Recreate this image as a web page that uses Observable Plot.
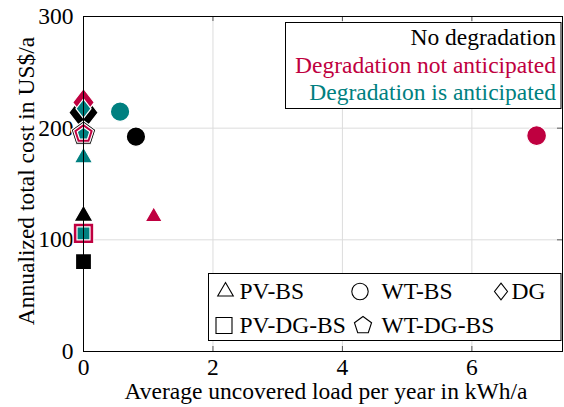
<!DOCTYPE html>
<html>
<head>
<meta charset="utf-8">
<script src="https://cdn.jsdelivr.net/npm/d3@7"></script>
<script src="https://cdn.jsdelivr.net/npm/@observablehq/plot@0.6"></script>
<style>
  html, body { margin: 0; padding: 0; background: #fff; }
  #wrap { position: relative; width: 564px; height: 407px; }
  #wrap svg { position: absolute; left: 0; top: 0; }
  #wrap text { font-family: 'Liberation Serif', 'Times New Roman', serif; }
</style>
</head>
<body>
<div id="wrap"></div>
<script>
// ---- data ----
const systems = ["PV-BS", "WT-BS", "DG", "PV-DG-BS", "WT-DG-BS"];
const scenarios = ["No degradation", "Degradation not anticipated", "Degradation is anticipated"];
const loadNoDeg  = [0, 0.81, 0, 0, 0];
const costNoDeg  = [121.5, 192.4, 214, 80.4, 195];
const loadNotAnt = [1.085, 7.0, 0, 0, 0];
const costNotAnt = [120.7, 193.3, 223, 105.8, 195];
const loadAnt    = [0, 0.565, 0, 0, 0];
const costAnt    = [173.6, 214.8, 217.5, 105.8, 195];
const xTicks = [0, 2, 4, 6];
const yTicks = [0, 100, 200, 300];
const xLabel = "Average uncovered load per year in kWh/a";
const yLabel = "Annualized total cost in US$/a";

// ---- styles ----
const colors = ["#000000", "#BF0040", "#008080"];
const FONT = "'Liberation Serif', 'Times New Roman', serif";
const FS = 23.5;
const W = 564, H = 407;
const mL = 83, mR = 2, mT = 16, mB = 56;
const frameW = W - mL - mR, frameH = H - mT - mB;

const rad = s => Math.sqrt(s / Math.PI);
const symTri = {draw(c, s) { const r = rad(s), h = r * Math.sqrt(3) / 2; c.moveTo(0, -r); c.lineTo(h, r / 2); c.lineTo(-h, r / 2); c.closePath(); }};
const symCircle = {draw(c, s) { const r = rad(s); c.moveTo(r, 0); c.arc(0, 0, r, 0, 2 * Math.PI); c.closePath(); }};
const symDiamond = {draw(c, s) { const r = rad(s); c.moveTo(0, -1.3 * r); c.lineTo(r, 0); c.lineTo(0, 1.3 * r); c.lineTo(-r, 0); c.closePath(); }};
const symSquare = {draw(c, s) { const r = rad(s); c.rect(-r, -r, 2 * r, 2 * r); }};
const symPent = {draw(c, s) { const r = rad(s); for (let k = 0; k < 5; k++) { const a = -Math.PI / 2 + k * 2 * Math.PI / 5; const x = r * Math.cos(a), y = r * Math.sin(a); k ? c.lineTo(x, y) : c.moveTo(x, y); } c.closePath(); }};
const symbolsBySystem = [symTri, symCircle, symDiamond, symSquare, symPent];
// marker radius per system (rows) and scenario (columns)
const markR = [
  [11.1, 10, 10.6],
  [9.7, 9.9, 9.7],
  [14.7, 10.8, 7.5],
  [8, 10.3, 6.5],
  [13, 10.5, 6.6]
];

const series = [
  {load: loadNoDeg, cost: costNoDeg},
  {load: loadNotAnt, cost: costNotAnt},
  {load: loadAnt, cost: costAnt}
];

const dotMarks = [];
series.forEach((s, si) => {
  systems.forEach((sys, i) => {
    dotMarks.push(Plot.dot([i], {
      x: j => s.load[j], y: j => s.cost[j],
      symbol: symbolsBySystem[i], r: markR[i][si],
      fill: colors[si], stroke: "white", strokeWidth: 1.2
    }));
  });
});

const chart = Plot.plot({
  width: W, height: H,
  marginLeft: mL, marginRight: mR, marginTop: mT, marginBottom: mB,
  style: {fontFamily: FONT, fontSize: FS + "px", background: "white", overflow: "visible"},
  x: {domain: [0, 7.4]},
  y: {domain: [0, 300]},
  marks: [
    Plot.gridX(xTicks, {stroke: "#dcdcdc", strokeOpacity: 1, strokeWidth: 1}),
    Plot.gridY(yTicks, {stroke: "#dcdcdc", strokeOpacity: 1, strokeWidth: 1}),
    Plot.tickX(xTicks, {x: d => d, insetTop: frameH - 5, stroke: "#333", strokeWidth: 0.8}),
    Plot.tickX(xTicks, {x: d => d, insetBottom: frameH - 5, stroke: "#333", strokeWidth: 0.8}),
    Plot.tickY(yTicks, {y: d => d, insetRight: frameW - 5, stroke: "#333", strokeWidth: 0.8}),
    Plot.tickY(yTicks, {y: d => d, insetLeft: frameW - 5, stroke: "#333", strokeWidth: 0.8}),
    Plot.axisX(xTicks, {tickSize: 0, tickPadding: 7, label: null, fontSize: FS}),
    Plot.axisY(yTicks, {tickSize: 0, tickPadding: 10, label: null, fontSize: FS}),
    Plot.text([xLabel], {frameAnchor: "bottom", textAnchor: "middle", lineAnchor: "middle", text: d => d, dy: 39.5, dx: 3, fontSize: FS}),
    Plot.text([yLabel], {frameAnchor: "left", textAnchor: "middle", lineAnchor: "middle", text: d => d, rotate: -90, dx: -57.5, dy: -3, fontSize: FS}),
    ...dotMarks,
    Plot.frame({stroke: "black", strokeWidth: 1})
  ]
});
document.getElementById("wrap").appendChild(chart);

// ---- legends (overlay) ----
const ov = d3.select("#wrap").append("svg")
  .attr("width", W).attr("height", H)
  .style("pointer-events", "none");

// scenario legend
ov.append("rect").attr("x", 285.5).attr("y", 22.5).attr("width", 275.5).attr("height", 86)
  .attr("fill", "white").attr("stroke", "black").attr("stroke-width", 1);
const baselines = [45, 73, 100];
scenarios.forEach((t, i) => {
  ov.append("text").attr("x", 556).attr("y", baselines[i]).attr("text-anchor", "end")
    .attr("font-family", FONT).attr("font-size", FS)
    .attr("fill", colors[i]).text(t);
});

// system legend
ov.append("rect").attr("x", 208.5).attr("y", 273.5).attr("width", 352.5).attr("height", 67)
  .attr("fill", "white").attr("stroke", "black").attr("stroke-width", 1);
const legItems = [
  {sx: 225.5, sy: 291.5, tx: 239.5, ty: 298.5, r: 9},
  {sx: 360, sy: 291.5, tx: 381.5, ty: 298.5, r: 8.2},
  {sx: 501, sy: 291.5, tx: 511.5, ty: 298.5, r: 6.5},
  {sx: 224, sy: 325.5, tx: 239.5, ty: 332.5, r: 8},
  {sx: 363, sy: 325.5, tx: 381.5, ty: 332.5, r: 9}
];
systems.forEach((name, i) => {
  const it = legItems[i];
  ov.append("path")
    .attr("d", d3.symbol(symbolsBySystem[i], Math.PI * it.r * it.r)())
    .attr("transform", `translate(${it.sx},${it.sy})`)
    .attr("fill", "white").attr("stroke", "black").attr("stroke-width", 1.1);
  ov.append("text").attr("x", it.tx).attr("y", it.ty)
    .attr("font-family", FONT).attr("font-size", FS)
    .attr("fill", "black").text(name);
});
</script>
</body>
</html>
